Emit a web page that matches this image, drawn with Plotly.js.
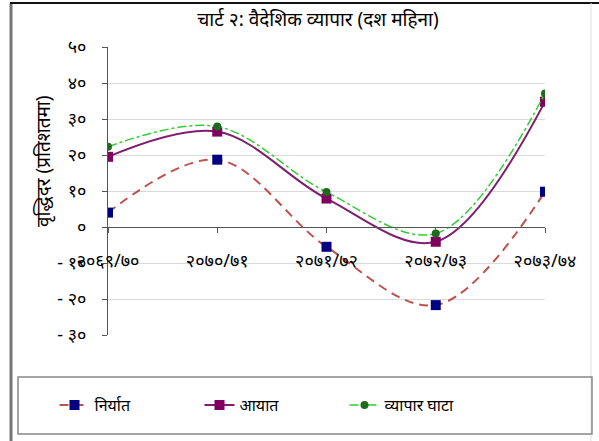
<!DOCTYPE html>
<html>
<head>
<meta charset="utf-8">
<script src="https://cdn.plot.ly/plotly-3.0.1.min.js"></script>
<style>html,body{margin:0;padding:0;background:#fff}#chart{width:599px;height:441px}</style>
</head>
<body>
<div id="chart"></div>
<script>
const categories = ['२०६९/७०', '२०७०/७१', '२०७१/७२', '२०७२/७३', '२०७३/७४'];
const exportsGrowth = [4, 18.7, -5.5, -21.7, 9.8];
const importsGrowth = [19.5, 26.5, 7.9, -4.1, 34.8];
const deficitGrowth = [22.3, 27.9, 9.7, -1.8, 37.1];
const seriesNames = ['निर्यात', 'आयात', 'व्यापार घाटा'];
const yTickVals = [-30, -20, -10, 0, 10, 20, 30, 40, 50];
const yTickText = ['- ३०', '- २०', '- १०', '०', '१०', '२०', '३०', '४०', '५०'];
const titleText = 'चार्ट २: वैदेशिक व्यापार (दश महिना)';
const yTitleText = 'वृद्धिदर (प्रतिशतमा)';

const FONT = 'Noto Sans, DejaVu Sans, sans-serif';
const yMin = -30, yMax = 50;

const traces = [
  {x: categories, y: exportsGrowth, name: seriesNames[0], type: 'scatter', mode: 'lines+markers',
   line: {color: '#c0504d', width: 2, dash: '9px,6px', shape: 'spline', smoothing: 1},
   marker: {symbol: 'square', size: 10, color: '#000080'}},
  {x: categories, y: importsGrowth, name: seriesNames[1], type: 'scatter', mode: 'lines+markers',
   line: {color: '#7f1f6f', width: 2, shape: 'spline', smoothing: 1},
   marker: {symbol: 'square', size: 10, color: '#800060'}},
  {x: categories, y: deficitGrowth, name: seriesNames[2], type: 'scatter', mode: 'lines+markers',
   line: {color: '#33cc33', width: 1.5, dash: 'dashdot', shape: 'spline', smoothing: 1},
   marker: {symbol: 'circle', size: 8, color: '#1e6b1e'}}
];

// plot area pixel geometry
const L = 108, R = 54, T = 47, B = 106, W = 599, H = 441;
const pw = W - L - R, ph = H - T - B;
const px = v => (v - L) / pw;
const py = v => (H - B - v) / ph;

const layout = {
  width: W, height: H,
  margin: {l: L, r: R, t: T, b: B, pad: 0},
  paper_bgcolor: '#fff', plot_bgcolor: '#fff',
  font: {family: FONT, size: 14, color: '#000'},
  showlegend: true,
  title: {text: titleText, font: {family: FONT, size: 19, color: '#000'},
          xref: 'paper', x: px(318), xanchor: 'center', yref: 'container', y: 1 - 19 / H, yanchor: 'middle'},
  xaxis: {type: 'category', range: [0, categories.length - 1], anchor: 'free',
          position: (0 - yMin) / (yMax - yMin),
          showline: true, linecolor: '#555', linewidth: 1, showgrid: false, zeroline: false,
          ticks: 'outside', ticklen: 5, tickcolor: '#555', ticklabelstandoff: 12,
          tickfont: {family: FONT, size: 18, color: '#000'}, fixedrange: true},
  yaxis: {range: [yMin, yMax], tickvals: yTickVals, ticktext: yTickText,
          showline: true, linecolor: '#555', linewidth: 1, showgrid: true, gridcolor: '#d9d9d9',
          zeroline: false, ticks: 'outside', ticklen: 5, tickcolor: '#555', ticklabelstandoff: 12,
          tickfont: {family: FONT, size: 18, color: '#000'}, fixedrange: true},
  legend: {orientation: 'h', x: px(272), xanchor: 'center', y: py(405), yanchor: 'middle',
           font: {family: FONT, size: 16, color: '#000'}, bgcolor: 'rgba(0,0,0,0)', entrywidth: 100},
  annotations: [{text: yTitleText, xref: 'paper', yref: 'paper', x: px(43), y: py(162),
                 xanchor: 'center', yanchor: 'middle', textangle: -90, showarrow: false,
                 font: {family: FONT, size: 19, color: '#000'}}],
  shapes: [
    {type: 'line', xref: 'paper', yref: 'paper', x0: px(11), x1: px(11), y0: py(441), y1: py(3), line: {color: '#777', width: 3}},
    {type: 'line', xref: 'paper', yref: 'paper', x0: px(10), x1: px(599), y0: py(3), y1: py(3), line: {color: '#111', width: 2}},
    {type: 'line', xref: 'paper', yref: 'paper', x0: px(591), x1: px(591), y0: py(441), y1: py(3), line: {color: '#ddd', width: 1}},
    {type: 'rect', xref: 'paper', yref: 'paper', x0: px(18), x1: px(592), y0: py(434), y1: py(377), line: {color: '#888', width: 1.5}}
  ]
};

Plotly.newPlot('chart', traces, layout, {displayModeBar: false, staticPlot: true});
</script>
</body>
</html>
